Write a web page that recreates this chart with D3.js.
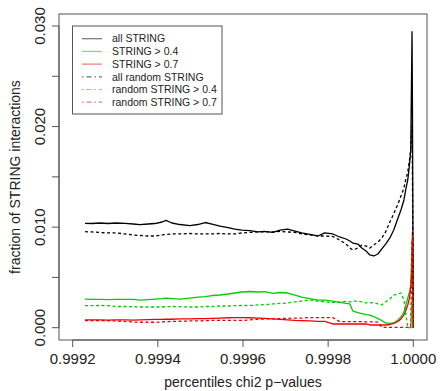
<!DOCTYPE html>
<html>
<head>
<meta charset="utf-8">
<script src="https://cdn.jsdelivr.net/npm/d3@7"></script>
<style>
  body { margin: 0; background: #fff; }
  svg { display: block; font-family: "Liberation Sans", Arial, Helvetica, sans-serif; }
</style>
</head>
<body>
<div id="chart"></div>
<script>
// percentile of chi2 p-value (shared x grid)
const percentiles = [0.999229, 0.999245, 0.999264, 0.999283, 0.999302, 0.999323, 0.999342, 0.999358, 0.999377, 0.999393,
  0.999410, 0.999419, 0.999433, 0.999452, 0.999475, 0.999494, 0.999511, 0.999527, 0.999546, 0.999565,
  0.999581, 0.999597, 0.999616, 0.999635, 0.999651, 0.999670, 0.999687, 0.999705, 0.999722, 0.999738,
  0.999757, 0.999776, 0.999792, 0.999811, 0.999827, 0.999842, 0.999851, 0.999858, 0.999870, 0.999879,
  0.999889, 0.999898, 0.999907, 0.999917, 0.999926, 0.999935, 0.999945, 0.999954, 0.999964, 0.999971,
  0.999978, 0.999982, 0.999987, 0.999991, 0.999994, 0.999997, 0.999998, 1.000000];

const allString = [0.01038, 0.01036, 0.01041, 0.01036, 0.01041, 0.01038, 0.01031, 0.01024, 0.01031, 0.01036,
  0.01051, 0.01068, 0.01041, 0.01026, 0.01016, 0.01026, 0.01046, 0.01031, 0.01011, 0.00996,
  0.00981, 0.00971, 0.00966, 0.00952, 0.00957, 0.00947, 0.00971, 0.00981, 0.00961, 0.00942,
  0.00927, 0.00912, 0.00942, 0.00932, 0.00902, 0.00882, 0.00862, 0.00842, 0.00832, 0.00792,
  0.00763, 0.00723, 0.00713, 0.00733, 0.00783, 0.00832, 0.00892, 0.00971, 0.01091, 0.01170,
  0.01270, 0.01369, 0.01469, 0.01618, 0.01767, 0.02943, 0.02200, 0];

const string04 = [0.00285, 0.00282, 0.00282, 0.00280, 0.00282, 0.00282, 0.00282, 0.00275, 0.00280, 0.00285,
  0.00290, 0.00295, 0.00290, 0.00285, 0.00295, 0.00305, 0.00310, 0.00320, 0.00325, 0.00335,
  0.00345, 0.00355, 0.00360, 0.00355, 0.00358, 0.00342, 0.00350, 0.00345, 0.00325, 0.00305,
  0.00290, 0.00275, 0.00275, 0.00265, 0.00251, 0.00241, 0.00236, 0.00166, 0.00151, 0.00141,
  0.00131, 0.00126, 0.00111, 0.00091, 0.00072, 0.00047, 0.00042, 0.00047, 0.00077, 0.00106,
  0.00156, 0.00216, 0.00295, 0.00355, 0.00425, 0.00773, 0.00872, 0];

const string07 = [0.00077, 0.00077, 0.00077, 0.00075, 0.00077, 0.00077, 0.00075, 0.00077, 0.00080, 0.00082,
  0.00082, 0.00084, 0.00084, 0.00087, 0.00087, 0.00090, 0.00091, 0.00093, 0.00096, 0.00099,
  0.00101, 0.00101, 0.00099, 0.00096, 0.00093, 0.00087, 0.00082, 0.00077, 0.00072, 0.00070,
  0.00067, 0.00062, 0.00062, 0.00037, 0.00037, 0.00037, 0.00037, 0.00037, 0.00037, 0.00037,
  0.00037, 0.00027, 0.00027, 0.00027, 0.00027, 0.00027, 0.00032, 0.00042, 0.00062, 0.00087,
  0.00126, 0.00166, 0.00226, 0.00295, 0.00395, 0.00574, 0.00955, 0];

const allRandom = [0.00955, 0.00952, 0.00947, 0.00942, 0.00942, 0.00932, 0.00922, 0.00917, 0.00912, 0.00912,
  0.00922, 0.00927, 0.00932, 0.00932, 0.00937, 0.00932, 0.00932, 0.00932, 0.00937, 0.00932,
  0.00932, 0.00942, 0.00947, 0.00952, 0.00952, 0.00952, 0.00957, 0.00952, 0.00947, 0.00932,
  0.00922, 0.00912, 0.00912, 0.00907, 0.00872, 0.00832, 0.00792, 0.00773, 0.00792, 0.00822,
  0.00812, 0.00792, 0.00822, 0.00852, 0.00892, 0.00952, 0.01051, 0.01131, 0.01230, 0.01310,
  0.01389, 0.01469, 0.01548, 0.01667, 0.01767, 0.02016, 0.01500, 0];

const random04 = [0.00219, 0.00219, 0.00221, 0.00219, 0.00211, 0.00211, 0.00209, 0.00206, 0.00206, 0.00206,
  0.00206, 0.00209, 0.00211, 0.00209, 0.00206, 0.00206, 0.00211, 0.00211, 0.00216, 0.00216,
  0.00219, 0.00221, 0.00221, 0.00226, 0.00229, 0.00236, 0.00241, 0.00246, 0.00256, 0.00265,
  0.00275, 0.00265, 0.00256, 0.00251, 0.00256, 0.00261, 0.00256, 0.00265, 0.00265, 0.00256,
  0.00246, 0.00246, 0.00251, 0.00236, 0.00226, 0.00256, 0.00285, 0.00325, 0.00335, 0.00345,
  0.00275, 0.00156, 0, 0, 0, 0.00275, 0, 0];

const random07 = [0.00070, 0.00070, 0.00070, 0.00070, 0.00067, 0.00062, 0.00057, 0.00054, 0.00054, 0.00054,
  0.00057, 0.00060, 0.00062, 0.00064, 0.00067, 0.00067, 0.00070, 0.00072, 0.00072, 0.00072,
  0.00072, 0.00072, 0.00077, 0.00084, 0.00087, 0.00087, 0.00091, 0.00093, 0.00096, 0.00096,
  0.00101, 0.00101, 0.00101, 0.00101, 0.00060, 0.00060, 0.00060, 0.00060, 0.00060, 0.00060,
  0.00058, 0.00058, 0.00058, 0.00055, 0.00003, 0.00003, 0.00003, 0.00003, 0.00003, 0.00003,
  0.00003, 0.00003, 0.00003, 0.00003, 0.00003, 0.00880, 0.00880, 0];

const xTicks = [0.9992, 0.9994, 0.9996, 0.9998, 1.0000];
const yTicks = [0.000, 0.005, 0.010, 0.015, 0.020, 0.025, 0.030];
const yTickLabels = [0.000, 0.010, 0.020, 0.030];

const seriesNames = ['all STRING', 'STRING > 0.4', 'STRING > 0.7', 'all random STRING', 'random STRING > 0.4', 'random STRING > 0.7'];
const seriesColors = ['#000000', '#00cd00', '#ee0000', '#000000', '#00cd00', '#ee0000'];
const seriesDashed = [false, false, false, true, true, true];
const seriesValues = [allString, string04, string07, allRandom, random04, random07];

const width = 440, height = 391;
const box = {left: 59, right: 427, top: 14, bottom: 340};

const svg = d3.select('#chart').append('svg')
    .attr('width', width)
    .attr('height', height);

const x = d3.scaleLinear().domain([0.9992, 1.0]).range([72.7, 413.3]);
const y = d3.scaleLinear().domain([0, 0.03]).range([327.7, 26]);

const dash = '1.5,3,5,3';

// data lines
const line = d3.line()
    .x(d => x(d[0]))
    .y(d => y(d[1]));

const linesG = svg.append('g');
seriesValues.forEach((vals, i) => {
    const pts = percentiles.map((p, j) => [p, vals[j]]);
    linesG.append('path')
        .datum(pts)
        .attr('fill', 'none')
        .attr('stroke', seriesColors[i])
        .attr('stroke-width', 1.3)
        .attr('stroke-linejoin', 'round')
        .attr('stroke-dasharray', seriesDashed[i] ? '3,2.5' : null)
        .attr('d', line);
});

// plot frame
svg.append('rect')
    .attr('x', box.left)
    .attr('y', box.top)
    .attr('width', box.right - box.left)
    .attr('height', box.bottom - box.top)
    .attr('fill', 'none')
    .attr('stroke', '#555')
    .attr('stroke-width', 1);

// x axis
const gx = svg.append('g').attr('transform', 'translate(0,' + box.bottom + ')');
gx.append('line')
    .attr('x1', x(xTicks[0])).attr('x2', x(xTicks[xTicks.length - 1]))
    .attr('stroke', '#555');
gx.selectAll('.tick').data(xTicks).enter().append('line')
    .attr('x1', d => x(d)).attr('x2', d => x(d))
    .attr('y1', 0).attr('y2', 7)
    .attr('stroke', '#555');
gx.selectAll('.lbl').data(xTicks).enter().append('text')
    .attr('x', d => x(d))
    .attr('y', 23.5)
    .attr('text-anchor', 'middle')
    .attr('font-size', 15)
    .attr('fill', '#222')
    .text(d => d3.format('.4f')(d));

// y axis
const gy = svg.append('g').attr('transform', 'translate(' + box.left + ',0)');
gy.append('line')
    .attr('y1', y(0)).attr('y2', y(0.03))
    .attr('stroke', '#555');
gy.selectAll('.tick').data(yTicks).enter().append('line')
    .attr('x1', 0).attr('x2', -7)
    .attr('y1', d => y(d)).attr('y2', d => y(d))
    .attr('stroke', '#555');
gy.selectAll('.lbl').data(yTickLabels).enter().append('text')
    .attr('transform', d => 'translate(-14.5,' + y(d) + ') rotate(-90)')
    .attr('text-anchor', 'middle')
    .attr('font-size', 15)
    .attr('fill', '#222')
    .text(d => d3.format('.3f')(d));

// axis titles
svg.append('text')
    .attr('x', (box.left + box.right) / 2)
    .attr('y', 387)
    .attr('text-anchor', 'middle')
    .attr('font-size', 14)
    .attr('fill', '#222')
    .text('percentiles chi2 p\u2212values');

svg.append('text')
    .attr('transform', 'translate(20,' + (box.top + box.bottom) / 2 + ') rotate(-90)')
    .attr('text-anchor', 'middle')
    .attr('font-size', 14)
    .attr('fill', '#222')
    .text('fraction of STRING interactions');

// legend
const lg = svg.append('g');
lg.append('rect')
    .attr('x', 72.5).attr('y', 26)
    .attr('width', 149.5).attr('height', 88)
    .attr('fill', '#fff')
    .attr('stroke', '#555');
seriesNames.forEach((name, i) => {
    const ly = 38.7 + i * 12.7;
    lg.append('line')
        .attr('x1', 82).attr('x2', 102)
        .attr('y1', ly).attr('y2', ly)
        .attr('stroke', seriesColors[i])
        .attr('stroke-opacity', 0.55)
        .attr('stroke-width', 1.2)
        .attr('stroke-dasharray', seriesDashed[i] ? dash : null);
    lg.append('text')
        .attr('x', 112).attr('y', ly)
        .attr('dy', '0.36em')
        .attr('font-size', 10.5)
        .attr('fill', '#222')
        .text(name);
});
</script>
</body>
</html>
